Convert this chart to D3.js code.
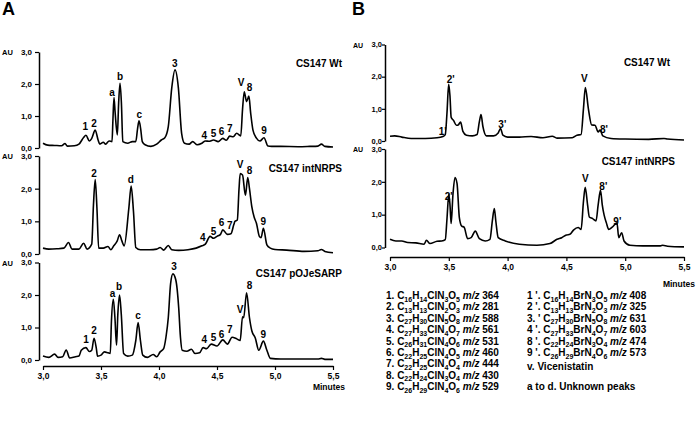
<!DOCTYPE html>
<html>
<head>
<meta charset="utf-8">
<script src="https://cdn.jsdelivr.net/npm/d3@7"></script>
<style>
  body { margin: 0; background: #fff; }
  text { font-family: "Liberation Sans", Arial, sans-serif; font-weight: bold; fill: #000; }
</style>
</head>
<body>
<svg id="fig" width="696" height="435"></svg>
<script>
// time (min), absorbance (AU)
const wtA = [[3.00,0.15],[3.04,0.09],[3.10,0.08],[3.16,0.07],[3.19,0.14],[3.21,0.06],[3.27,0.07],[3.31,0.12],[3.35,0.33],[3.37,0.40],[3.40,0.22],[3.42,0.30],[3.45,0.56],[3.475,0.25],[3.49,0.12],[3.52,0.18],[3.54,0.12],[3.57,0.22],[3.595,0.2],[3.603,0.9],[3.612,1.58],[3.622,1.1],[3.641,0.41],[3.652,1.4],[3.664,2.02],[3.676,1.4],[3.688,0.2],[3.73,0.15],[3.77,0.2],[3.80,0.2],[3.815,0.6],[3.828,0.85],[3.842,0.6],[3.856,0.2],[3.88,0.1],[3.93,0.05],[3.98,0.12],[4.02,0.25],[4.05,0.32],[4.08,0.67],[4.11,1.88],[4.138,2.44],[4.167,1.88],[4.195,0.46],[4.22,0.15],[4.26,0.12],[4.29,0.2],[4.33,0.1],[4.37,0.15],[4.40,0.22],[4.43,0.21],[4.47,0.25],[4.51,0.2],[4.55,0.3],[4.58,0.24],[4.61,0.37],[4.64,0.35],[4.67,0.46],[4.705,0.38],[4.72,1.2],[4.735,1.76],[4.755,1.45],[4.775,1.62],[4.79,1.1],[4.81,0.56],[4.84,0.31],[4.87,0.22],[4.905,0.32],[4.94,0.06],[4.97,0.05],[5.05,0.05],[5.2,0.04],[5.3,0.05],[5.37,0.06],[5.40,0.12],[5.43,0.05],[5.5,0.03]];
const intA = [[3.00,0.18],[3.05,0.15],[3.12,0.16],[3.18,0.18],[3.22,0.35],[3.25,0.15],[3.31,0.15],[3.35,0.33],[3.38,0.15],[3.42,0.3],[3.435,1.5],[3.45,2.28],[3.465,1.4],[3.48,0.18],[3.52,0.18],[3.56,0.23],[3.585,0.13],[3.61,0.25],[3.64,0.4],[3.66,0.59],[3.68,0.4],[3.70,0.25],[3.74,1.4],[3.76,2.08],[3.78,1.3],[3.80,0.2],[3.84,0.13],[3.92,0.13],[3.98,0.15],[4.01,0.2],[4.04,0.12],[4.08,0.26],[4.11,0.13],[4.17,0.11],[4.25,0.13],[4.32,0.18],[4.37,0.25],[4.40,0.3],[4.44,0.54],[4.47,0.48],[4.50,0.54],[4.53,0.6],[4.55,0.74],[4.59,0.6],[4.62,0.62],[4.645,0.9],[4.655,1.0],[4.675,1.04],[4.69,2.0],[4.70,2.46],[4.72,2.42],[4.745,1.8],[4.765,2.34],[4.78,2.0],[4.80,1.45],[4.82,1.13],[4.84,0.94],[4.865,0.54],[4.88,0.5],[4.90,0.79],[4.93,0.28],[4.96,0.18],[5.0,0.14],[5.1,0.12],[5.25,0.08],[5.37,0.1],[5.40,0.14],[5.43,0.08],[5.5,0.04]];
const sarpA = [[3.00,0.12],[3.05,0.08],[3.10,0.18],[3.13,0.08],[3.17,0.1],[3.20,0.31],[3.23,0.06],[3.28,0.1],[3.31,0.12],[3.33,0.3],[3.37,0.38],[3.40,0.26],[3.42,0.3],[3.44,0.67],[3.46,0.35],[3.47,0.12],[3.50,0.15],[3.53,0.25],[3.56,0.22],[3.58,0.2],[3.59,1.2],[3.606,1.87],[3.62,1.3],[3.634,0.46],[3.645,1.4],[3.66,2.0],[3.675,1.4],[3.695,0.2],[3.73,0.12],[3.77,0.15],[3.80,0.6],[3.82,1.15],[3.84,0.6],[3.86,0.15],[3.90,0.08],[3.95,0.17],[3.98,0.1],[4.01,0.25],[4.04,0.35],[4.06,0.7],[4.08,1.3],[4.10,2.35],[4.12,2.65],[4.145,2.46],[4.17,1.6],[4.185,0.7],[4.20,0.3],[4.24,0.27],[4.28,0.33],[4.31,0.2],[4.35,0.22],[4.38,0.38],[4.41,0.35],[4.45,0.49],[4.50,0.43],[4.55,0.62],[4.59,0.49],[4.63,0.7],[4.67,0.65],[4.70,0.6],[4.72,1.33],[4.73,1.3],[4.755,2.07],[4.78,1.3],[4.80,0.9],[4.83,0.68],[4.86,0.3],[4.90,0.58],[4.93,0.3],[4.96,0.05],[5.05,0.03],[5.2,0.03],[5.37,0.03],[5.40,0.05],[5.43,0.02],[5.5,0.02]];
const wtB = [[3.00,0.15],[3.04,0.16],[3.10,0.12],[3.18,0.08],[3.30,0.08],[3.40,0.1],[3.45,0.14],[3.47,0.2],[3.485,0.9],[3.499,1.76],[3.51,1.4],[3.52,0.74],[3.54,0.64],[3.565,0.49],[3.58,0.5],[3.60,0.59],[3.62,0.3],[3.65,0.18],[3.70,0.16],[3.74,0.2],[3.76,0.6],[3.774,0.82],[3.79,0.45],[3.82,0.16],[3.88,0.16],[3.92,0.25],[3.94,0.39],[3.96,0.18],[4.0,0.12],[4.10,0.12],[4.20,0.14],[4.30,0.1],[4.38,0.15],[4.42,0.09],[4.55,0.1],[4.59,0.18],[4.625,0.2],[4.645,1.0],[4.661,1.66],[4.687,1.0],[4.715,0.5],[4.743,0.49],[4.77,0.28],[4.786,0.34],[4.81,0.16],[4.88,0.08],[5.0,0.06],[5.2,0.05],[5.33,0.08],[5.36,0.06],[5.5,0.03]];
const intB = [[3.00,0.25],[3.05,0.2],[3.10,0.2],[3.15,0.15],[3.22,0.14],[3.29,0.1],[3.31,0.22],[3.34,0.12],[3.40,0.19],[3.44,0.2],[3.47,0.24],[3.485,0.9],[3.50,1.62],[3.51,1.3],[3.52,0.73],[3.535,1.6],[3.553,2.13],[3.57,1.95],[3.59,0.9],[3.61,0.65],[3.63,0.62],[3.66,0.27],[3.69,0.3],[3.725,0.5],[3.76,0.27],[3.81,0.2],[3.85,0.25],[3.87,0.8],[3.887,1.19],[3.90,0.8],[3.92,0.3],[3.98,0.2],[4.10,0.1],[4.25,0.07],[4.36,0.12],[4.42,0.25],[4.46,0.3],[4.50,0.38],[4.53,0.4],[4.56,0.53],[4.60,0.61],[4.625,0.55],[4.645,1.4],[4.66,1.83],[4.68,1.3],[4.695,0.93],[4.723,0.88],[4.752,0.81],[4.77,1.3],[4.79,1.74],[4.805,1.3],[4.82,1.0],[4.84,0.75],[4.86,0.55],[4.89,0.62],[4.93,0.75],[4.945,0.3],[4.97,0.45],[4.99,0.2],[5.04,0.07],[5.15,0.05],[5.30,0.05],[5.32,0.07],[5.36,0.04],[5.5,0.02]];

// peak labels: text, time, AU of label baseline
const wtAPeaks = [["1",3.365,0.56],["2",3.44,0.67],["a",3.595,1.63],["b",3.664,2.12],["c",3.83,0.93],["3",4.135,2.54],["4",4.39,0.28],["5",4.47,0.35],["6",4.54,0.41],["7",4.61,0.49],["V",4.707,1.94],["8",4.78,1.79],["9",4.905,0.43]];
const intAPeaks = [["2",3.44,2.36],["d",3.756,2.16],["4",4.377,0.41],["5",4.47,0.59],["6",4.54,0.86],["7",4.61,0.76],["V",4.70,2.62],["8",4.78,2.46],["9",4.90,0.89]];
const sarpAPeaks = [["1",3.37,0.51],["2",3.44,0.79],["a",3.60,1.95],["b",3.655,2.15],["c",3.82,1.25],["3",4.13,2.77],["4",4.39,0.53],["5",4.47,0.59],["6",4.54,0.67],["7",4.61,0.82],["V",4.70,1.46],["8",4.78,2.2],["9",4.90,0.69]];
const wtBPeaks = [["1'",3.448,0.18],["2'",3.516,1.81],["3'",3.955,0.39],["V",4.652,1.83],["8'",4.82,0.25]];
const intBPeaks = [["2'",3.50,1.44],["V",4.661,1.98],["8'",4.814,1.75],["9'",4.933,0.7]];

const timeTicks = [3, 3.5, 4, 4.5, 5, 5.5];
const auTicks = [0, 1, 2, 3];

const legendLeft = [["1.","C16H14ClN3O5","364"],["2.","C13H13ClN2O3","281"],["3.","C27H30ClN5O8","588"],["4.","C27H33ClN4O7","561"],["5.","C26H31ClN4O6","531"],["6.","C22H25ClN4O5","460"],["7.","C22H25ClN4O4","444"],["8.","C22H24ClN3O4","430"],["9.","C26H29ClN4O6","529"]];
const legendRight = [["1 '.","C16H14BrN3O5","408"],["2 '.","C13H13BrN2O3","325"],["3. '","C27H30BrN5O8","631"],["4 '.","C27H33BrN4O7","603"],["8 '.","C22H24BrN3O4","474"],["9 '.","C26H29BrN4O6","573"]];
const legendNotes = ["v. Vicenistatin", "a to d. Unknown peaks"];

const svg = d3.select("#fig");
const fmt = d => d3.format(".1f")(d).replace(".", ",");

const xA = d3.scaleLinear().domain([3, 5.5]).range([43, 333]);
const xB = d3.scaleLinear().domain([3, 5.5]).range([390, 684]);

function panel(x, yRange, axisX, auX, trace, peaks, title, titleX, titleY, tickSize, tickPad, tickFont) {
  const y = d3.scaleLinear().domain([0, 3]).range(yRange);
  const g = svg.append("g");
  const ax = g.append("g")
    .attr("transform", `translate(${axisX},0)`)
    .call(d3.axisLeft(y).tickValues(auTicks).tickFormat(fmt).tickSize(tickSize).tickSizeOuter(0).tickPadding(tickPad));
  ax.select(".domain").attr("stroke-width", 1.5);
  ax.selectAll(".tick line").attr("stroke-width", 1.2);
  ax.selectAll("text").attr("font-size", tickFont).attr("dy", "0.3em")
    .style("font-family", "Liberation Sans, Arial, sans-serif");
  g.append("text").attr("x", auX).attr("y", y(3) + 3).attr("font-size", tickFont - 0.5).text("AU");

  const line = d3.line().x(d => x(d[0])).y(d => y(d[1])).curve(d3.curveMonotoneX);
  g.append("path").datum(trace).attr("d", line)
    .attr("fill", "none").attr("stroke", "#000").attr("stroke-width", 1.6).attr("stroke-linejoin", "round");

  g.selectAll(".pk").data(peaks).enter().append("text")
    .attr("x", d => x(d[1]))
    .attr("y", d => y(d[2]))
    .attr("text-anchor", "middle")
    .attr("font-size", 10)
    .text(d => d[0]);

  g.append("text").attr("x", titleX).attr("y", titleY).attr("text-anchor", "end")
    .attr("font-size", 10).text(title);
  return y;
}

function timeAxis(x, yPos, minX, minY) {
  const ax = svg.append("g").attr("transform", `translate(0,${yPos})`)
    .call(d3.axisBottom(x).tickValues(timeTicks).tickFormat(fmt).tickSize(4).tickSizeOuter(0).tickPadding(3));
  ax.select(".domain").attr("stroke-width", 1.5);
  ax.selectAll(".tick line").attr("stroke-width", 1.2);
  ax.selectAll("text").attr("font-size", 8.5).style("font-family", "Liberation Sans, Arial, sans-serif");
  svg.append("text").attr("x", minX).attr("y", minY).attr("text-anchor", "end")
    .attr("font-size", 8.5).text("Minutes");
}

// panel A
panel(xA, [148, 52], 39, 2, wtA, wtAPeaks, "CS147 Wt", 342, 67, 4, 3, 8);
panel(xA, [254, 156], 39, 2, intA, intAPeaks, "CS147 intNRPS", 342, 172, 4, 3, 8);
panel(xA, [360, 262.5], 39, 2, sarpA, sarpAPeaks, "CS147 pOJeSARP", 342, 277, 4, 3, 8);
timeAxis(xA, 366, 345, 390);

// panel B
panel(xB, [141, 44.5], 385, 353, wtB, wtBPeaks, "CS147 Wt", 670, 66, 3, 0, 7.5);
panel(xB, [247.5, 149], 385, 353, intB, intBPeaks, "CS147 intNRPS", 675, 165, 3, 0, 7.5);
timeAxis(xB, 257, 695, 287);

svg.append("text").attr("x", 2).attr("y", 15).attr("font-size", 18).text("A");
svg.append("text").attr("x", 352).attr("y", 15).attr("font-size", 18).text("B");

// legend with subscripted formulas
function formulaRow(xPos, yPos, row) {
  const t = svg.append("text").attr("x", xPos).attr("y", yPos).attr("font-size", 10);
  t.append("tspan").text(row[0] + " ");
  let shifted = false;
  for (const m of row[1].matchAll(/([A-Za-z]+)(\d*)/g)) {
    t.append("tspan").attr("dy", shifted ? -2.5 : 0).text(m[1]);
    shifted = false;
    if (m[2]) {
      t.append("tspan").attr("dy", 2.5).attr("font-size", 7).text(m[2]);
      shifted = true;
    }
  }
  t.append("tspan").attr("dy", shifted ? -2.5 : 0).text(" ");
  t.append("tspan").attr("font-style", "italic").text("m/z");
  t.append("tspan").text(" " + row[2]);
}

legendLeft.forEach((r, i) => formulaRow(386, 299 + i * 11.4, r));
legendRight.forEach((r, i) => formulaRow(527, 299 + i * 11.4, r));
legendNotes.forEach((n, i) => {
  svg.append("text").attr("x", 527).attr("y", 370 + i * 20).attr("font-size", 10).text(n);
});
</script>
</body>
</html>
